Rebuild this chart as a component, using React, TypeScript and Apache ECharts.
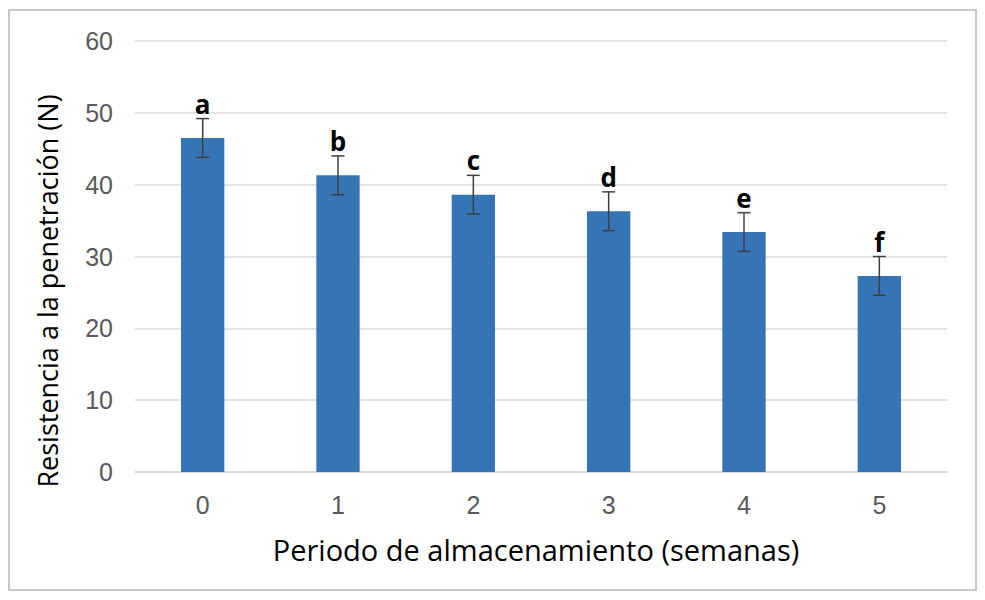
import React, { useEffect, useRef } from "react";
import * as echarts from "echarts";

const categories = ["0", "1", "2", "3", "4", "5"];
const means = [46.5, 41.3, 38.6, 36.3, 33.4, 27.3];
const errors = [2.7, 2.7, 2.7, 2.7, 2.7, 2.7];
const letters = ["a", "b", "c", "d", "e", "f"];
const yTitle = "Resistencia a la penetración (N)";
const xTitle = "Periodo de almacenamiento (semanas)";

export default function App() {
  const ref = useRef<HTMLDivElement>(null);
  useEffect(() => {
    if (!ref.current) return;
    const chart = echarts.init(ref.current, undefined, { renderer: "svg" });
    const errData = categories.map((_, i) => [i, means[i], errors[i], i]);
    chart.setOption({
      animation: false,
      backgroundColor: "#ffffff",
      grid: { left: 135, right: 38, top: 41, bottom: 128, containLabel: false },
      xAxis: {
        type: "category",
        data: categories,
        axisLine: { show: true, lineStyle: { color: "#d9d9d9", width: 1.5 } },
        axisTick: { show: false },
        axisLabel: {
          color: "#595959",
          fontSize: 25,
          fontFamily: "Liberation Sans, Arial, sans-serif",
          margin: 20,
        },
      },
      yAxis: {
        type: "value",
        min: 0,
        max: 60,
        interval: 10,
        axisLine: { show: false },
        axisTick: { show: false },
        splitLine: { lineStyle: { color: "#d9d9d9", width: 1.5 } },
        axisLabel: {
          color: "#595959",
          fontSize: 25,
          fontFamily: "Liberation Sans, Arial, sans-serif",
          margin: 22,
        },
      },
      graphic: [
        {
          type: "rect",
          shape: { x: 9, y: 10, width: 967, height: 580 },
          style: { fill: "none", stroke: "#c8c8c8", lineWidth: 2 },
          silent: true,
        },
        {
          type: "text",
          x: 47,
          y: 291,
          rotation: Math.PI / 2,
          style: {
            text: yTitle,
            fill: "#000000",
            font: "27px 'Open Sans', sans-serif",
            align: "center",
            verticalAlign: "middle",
          },
        },
        {
          type: "text",
          x: 536,
          y: 549,
          style: {
            text: xTitle,
            fill: "#000000",
            font: "29px 'Open Sans', sans-serif",
            align: "center",
            verticalAlign: "middle",
          },
        },
      ],
      series: [
        {
          type: "bar",
          data: means,
          barWidth: "32%",
          itemStyle: { color: "#3575b5" },
        },
        {
          type: "custom",
          data: errData,
          clip: false,
          z: 10,
          renderItem: (params: any, api: any) => {
            const x = api.value(0);
            const m = api.value(1);
            const e = api.value(2);
            const idx = api.value(3);
            const top = api.coord([x, m + e]);
            const bot = api.coord([x, m - e]);
            const hw = 6.5;
            const st = { stroke: "#404040", lineWidth: 1.5 };
            return {
              type: "group",
              children: [
                { type: "line", shape: { x1: top[0], y1: top[1], x2: bot[0], y2: bot[1] }, style: st },
                { type: "line", shape: { x1: top[0] - hw, y1: top[1], x2: top[0] + hw, y2: top[1] }, style: st },
                { type: "line", shape: { x1: bot[0] - hw, y1: bot[1], x2: bot[0] + hw, y2: bot[1] }, style: st },
                {
                  type: "text",
                  x: top[0],
                  y: top[1] - 2,
                  style: {
                    text: letters[idx],
                    fill: "#000000",
                    font: "bold 26px 'Open Sans', sans-serif",
                    align: "center",
                    verticalAlign: "bottom",
                  },
                },
              ],
            };
          },
        },
      ],
    });
    return () => chart.dispose();
  }, []);
  return (
    <div
      ref={ref}
      style={{ position: "fixed", left: 0, top: 0, width: 985, height: 600 }}
    />
  );
}
